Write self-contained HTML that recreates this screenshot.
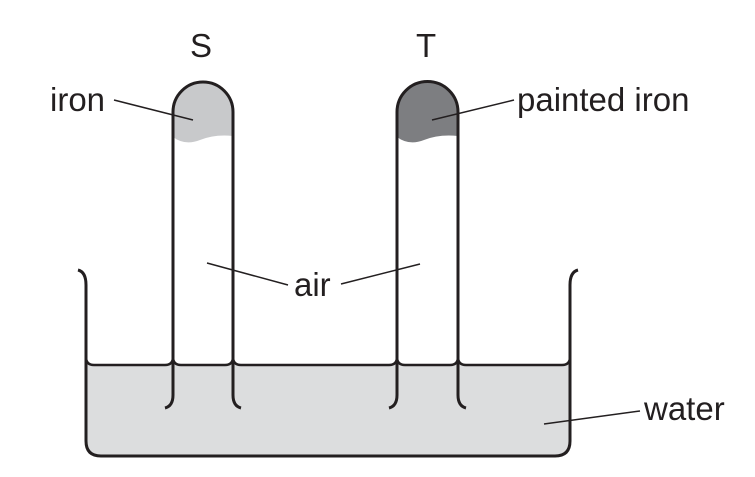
<!DOCTYPE html>
<html><head><style>body{margin:0;background:#fff}svg{display:block}text{font-family:"Liberation Sans",sans-serif;font-size:33px;fill:#231f20}</style></head>
<body><svg width="755" height="477" viewBox="0 0 755 477">
<path d="M86 357 Q86 365 94 365 L165 365 Q173 365 173 357 Q173 365 181 365 L225 365 Q233 365 233 357 Q233 365 241 365 L389 365 Q397 365 397 357 Q397 365 405 365 L450 365 Q458 365 458 357 Q458 365 466 365 L562 365 Q570 365 570 357 L570 441 Q570 456 555 456 L101 456 Q86 456 86 441 Z" fill="#dcddde"/>
<path d="M86 357 Q86 365 94 365 L165 365 Q173 365 173 357 M173 357 Q173 365 181 365 L225 365 Q233 365 233 357 Q233 365 241 365 L389 365 Q397 365 397 357 Q397 365 405 365 L450 365 Q458 365 458 357 Q458 365 466 365 L562 365 Q570 365 570 357" fill="none" stroke="#231f20" stroke-width="2.5"/>
<path d="M78 270 Q86 272 86 285 L86 441 Q86 456 101 456 L555 456 Q570 456 570 441 L570 285 Q570 272 578 270" fill="none" stroke="#231f20" stroke-width="3"/>
<path d="M173 137 Q185 146 200 140 Q215 134 233 136 L233 112 A30 30 0 0 0 173 112 Z" fill="#c8c9cb"/>
<path d="M397 137 Q409 146 424 140 Q439 134 458 136 L458 112 A30 30 0 0 0 397 112 Z" fill="#7d7e81"/>
<path d="M165 408 Q173 406 173 395 L173 112 A30 30 0 0 1 233 112 L233 395 Q233 406 241 408" fill="none" stroke="#231f20" stroke-width="3"/>
<path d="M389 408 Q397 406 397 395 L397 112 A30 30 0 0 1 458 112 L458 395 Q458 406 466 408" fill="none" stroke="#231f20" stroke-width="3"/>
<g stroke="#231f20" stroke-width="1.5">
<line x1="114" y1="100" x2="193" y2="120"/>
<line x1="432" y1="120" x2="514" y2="100"/>
<line x1="207" y1="263" x2="288" y2="285"/>
<line x1="341" y1="284" x2="420" y2="264"/>
<line x1="544" y1="424" x2="640" y2="411"/>
</g>
<text x="190" y="57">S</text>
<text x="416" y="57">T</text>
<text x="50" y="111">iron</text>
<text x="517" y="111">painted iron</text>
<text x="294" y="296">air</text>
<text x="644" y="420">water</text>
</svg></body></html>
